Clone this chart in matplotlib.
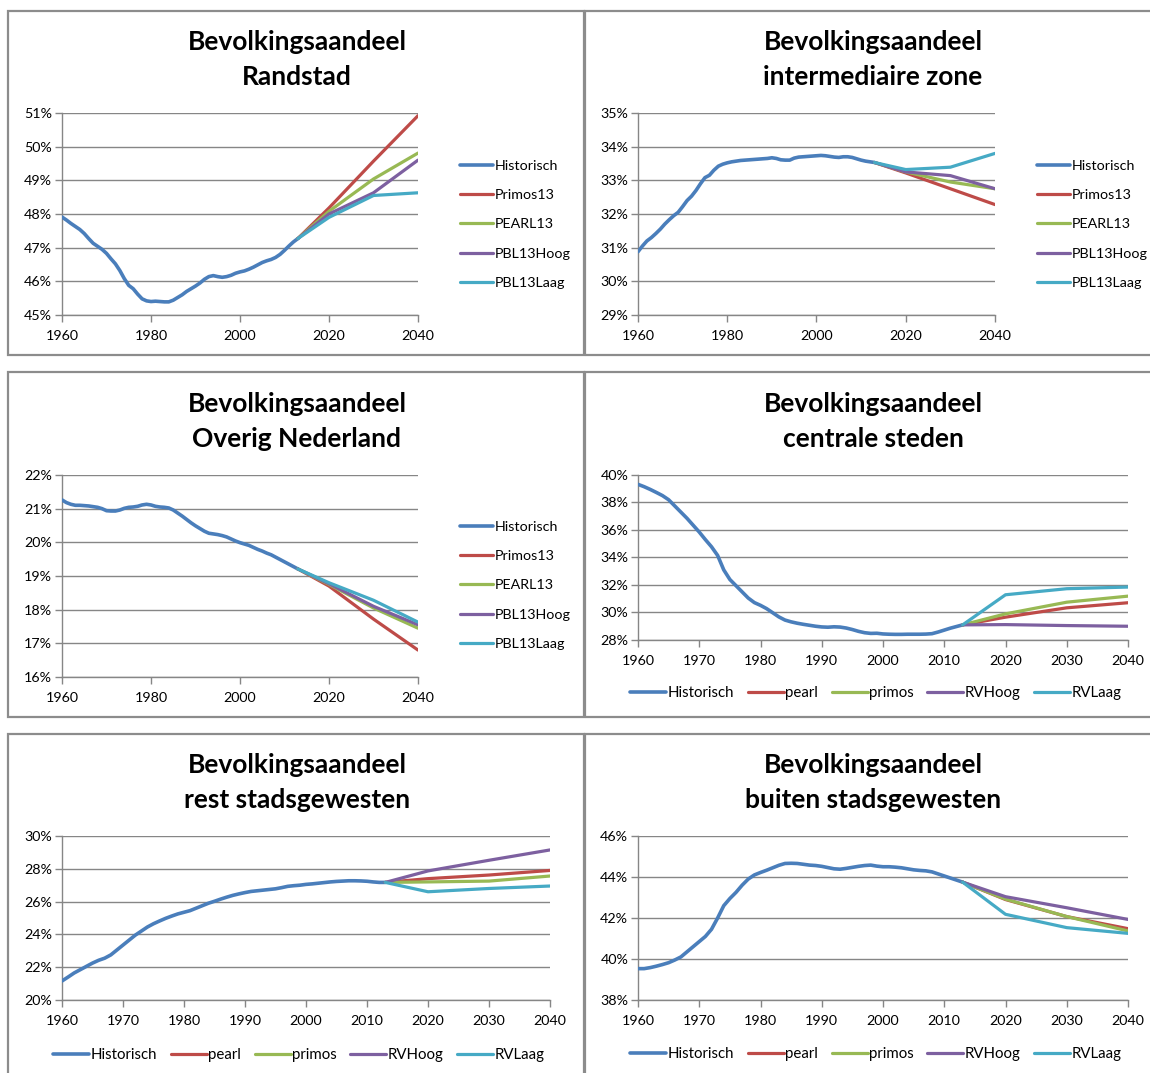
import matplotlib
matplotlib.use("Agg")
import matplotlib.pyplot as plt
from matplotlib.patches import Rectangle
from matplotlib.ticker import FuncFormatter

plt.rcParams['font.family'] = ['Lato', 'DejaVu Sans']

#-- Data ---------------------------------------------------
hist_years = list(range(1960, 2014))
scen_years = [2013, 2020, 2030, 2040]

randstad_hist = [47.91, 47.82, 47.72, 47.63, 47.54, 47.42, 47.27, 47.13, 47.04, 46.95,
                 46.83, 46.67, 46.52, 46.32, 46.08, 45.88, 45.78, 45.62, 45.48, 45.42,
                 45.40, 45.41, 45.40, 45.39, 45.39, 45.44, 45.52, 45.60, 45.70, 45.78,
                 45.86, 45.95, 46.06, 46.14, 46.17, 46.14, 46.12, 46.14, 46.18, 46.24,
                 46.28, 46.31, 46.36, 46.42, 46.49, 46.56, 46.61, 46.65, 46.71, 46.80,
                 46.92, 47.05, 47.17, 47.27]
randstad_scen = {
    'Primos13': [47.27, 48.18, 49.57, 50.92],
    'PEARL13': [47.27, 48.08, 49.04, 49.81],
    'PBL13Hoog': [47.27, 48.00, 48.63, 49.60],
    'PBL13Laag': [47.27, 47.90, 48.55, 48.63],
}

inter_hist = [30.88, 31.05, 31.20, 31.30, 31.42, 31.55, 31.70, 31.83, 31.95, 32.05,
              32.22, 32.40, 32.53, 32.70, 32.90, 33.08, 33.15, 33.30, 33.42, 33.48,
              33.52, 33.55, 33.57, 33.59, 33.60, 33.61, 33.62, 33.63, 33.64, 33.65,
              33.67, 33.65, 33.61, 33.60, 33.60, 33.66, 33.69, 33.70, 33.71, 33.72,
              33.73, 33.74, 33.73, 33.71, 33.69, 33.68, 33.70, 33.70, 33.68, 33.64,
              33.60, 33.57, 33.55, 33.53]
inter_scen = {
    'Primos13': [33.53, 33.22, 32.75, 32.28],
    'PEARL13': [33.53, 33.25, 32.95, 32.75],
    'PBL13Hoog': [33.53, 33.25, 33.14, 32.75],
    'PBL13Laag': [33.53, 33.32, 33.39, 33.80],
}

overig_hist = [21.26, 21.18, 21.13, 21.10, 21.10, 21.09, 21.08, 21.06, 21.04, 21.00,
               20.94, 20.93, 20.93, 20.96, 21.01, 21.04, 21.05, 21.07, 21.11, 21.13,
               21.11, 21.07, 21.05, 21.04, 21.02, 20.96, 20.87, 20.78, 20.68, 20.58,
               20.49, 20.41, 20.33, 20.27, 20.25, 20.23, 20.20, 20.16, 20.10, 20.04,
               19.99, 19.95, 19.91, 19.85, 19.79, 19.74, 19.68, 19.63, 19.56, 19.49,
               19.42, 19.35, 19.28, 19.21]
overig_scen = {
    'Primos13': [19.21, 18.70, 17.72, 16.80],
    'PEARL13': [19.21, 18.75, 18.05, 17.45],
    'PBL13Hoog': [19.21, 18.77, 18.10, 17.55],
    'PBL13Laag': [19.21, 18.80, 18.28, 17.63],
}

centraal_hist = [39.32, 39.15, 38.95, 38.73, 38.50, 38.20, 37.75, 37.30, 36.85, 36.35,
                 35.85, 35.30, 34.78, 34.15, 33.10, 32.40, 31.95, 31.50, 31.05, 30.72,
                 30.52, 30.28, 29.98, 29.68, 29.45, 29.32, 29.22, 29.14, 29.07, 29.00,
                 28.95, 28.93, 28.96, 28.94, 28.87, 28.76, 28.63, 28.53, 28.48, 28.49,
                 28.44, 28.42, 28.41, 28.41, 28.42, 28.42, 28.42, 28.43, 28.46, 28.58,
                 28.72, 28.86, 28.98, 29.10]
centraal_scen = {
    'pearl': [29.10, 29.66, 30.34, 30.71],
    'primos': [29.10, 29.90, 30.75, 31.19],
    'RVHoog': [29.10, 29.12, 29.05, 29.00],
    'RVLaag': [29.10, 31.29, 31.73, 31.85],
}

rest_hist = [21.16, 21.40, 21.65, 21.85, 22.05, 22.25, 22.42, 22.55, 22.75, 23.05,
             23.35, 23.65, 23.95, 24.20, 24.45, 24.65, 24.82, 24.98, 25.12, 25.25,
             25.35, 25.45, 25.60, 25.75, 25.90, 26.02, 26.15, 26.27, 26.38, 26.47,
             26.55, 26.62, 26.66, 26.70, 26.74, 26.78, 26.85, 26.93, 26.97, 27.00,
             27.05, 27.08, 27.12, 27.16, 27.20, 27.23, 27.25, 27.27, 27.27, 27.26,
             27.24, 27.20, 27.17, 27.17]
rest_scen = {
    'pearl': [27.17, 27.40, 27.62, 27.90],
    'primos': [27.17, 27.20, 27.25, 27.56],
    'RVHoog': [27.17, 27.87, 28.52, 29.15],
    'RVLaag': [27.17, 26.60, 26.80, 26.95],
}

buiten_hist = [39.53, 39.53, 39.58, 39.65, 39.73, 39.82, 39.95, 40.10, 40.35, 40.60,
               40.85, 41.10, 41.45, 42.00, 42.60, 42.95, 43.25, 43.60, 43.90, 44.10,
               44.22, 44.33, 44.45, 44.57, 44.66, 44.67, 44.66, 44.62, 44.58, 44.56,
               44.52, 44.46, 44.40, 44.38, 44.42, 44.47, 44.52, 44.56, 44.58, 44.53,
               44.50, 44.50, 44.48, 44.45, 44.40, 44.35, 44.32, 44.30, 44.25, 44.15,
               44.05, 43.95, 43.85, 43.75]
buiten_scen = {
    'pearl': [43.75, 42.90, 42.07, 41.48],
    'primos': [43.75, 42.92, 42.07, 41.37],
    'RVHoog': [43.75, 43.04, 42.50, 41.93],
    'RVLaag': [43.75, 42.18, 41.53, 41.25],
}

colors = ['#4A7EBB', '#BE4B48', '#98B954', '#7D60A0', '#46AAC5']
grey = '#868686'

W, H = 1150, 1073
fig = plt.figure(figsize=(W / 100, H / 100), dpi=100)


def fx(px):
    return px / W


def fy(py):
    return 1 - py / H


# panel frames (Excel chart borders)
for (x0, y0, x1, y1) in [(8, 11, 584, 355), (585, 11, 1160, 355),
                         (8, 372, 584, 717), (585, 372, 1160, 717),
                         (8, 734, 584, 1085), (585, 734, 1160, 1085)]:
    fig.patches.append(Rectangle((fx(x0), fy(y1)), fx(x1 - x0), (y1 - y0) / H,
                                 transform=fig.transFigure, fill=False,
                                 edgecolor='#8C8C8C', linewidth=1.6, zorder=0))

pct = FuncFormatter(lambda v, p: '%d%%' % round(v))
fs = 10.3


def panel(box, title, title_cx, title_y, hist, scen, ylim, ystep, xstep, legend, leg_y):
    x0, y0, x1, y1 = box
    ax = fig.add_axes([fx(x0), fy(y1), fx(x1 - x0), (y1 - y0) / H])
    ax.plot(hist_years, hist, color=colors[0], lw=2.6, label='Historisch',
            solid_capstyle='round', zorder=3)
    for i, (name, vals) in enumerate(scen.items()):
        ax.plot(scen_years, vals, color=colors[i + 1], lw=2.3, label=name,
                solid_capstyle='round', zorder=3 + i)
    ax.set_xlim(1960, 2040)
    ax.set_ylim(*ylim)
    ax.set_xticks(range(1960, 2041, xstep))
    yt = [ylim[0] + k * ystep for k in range(int(round((ylim[1] - ylim[0]) / ystep)) + 1)]
    ax.set_yticks(yt)
    ax.yaxis.set_major_formatter(pct)
    ax.grid(axis='y', color=grey, lw=1.0)
    ax.set_axisbelow(True)
    for s in ['top', 'right']:
        ax.spines[s].set_visible(False)
    for s in ['left', 'bottom']:
        ax.spines[s].set_color(grey)
        ax.spines[s].set_linewidth(1.0)
    ax.tick_params(direction='out', length=5, width=1.0, color=grey,
                   labelsize=fs, labelcolor='black')
    ax.tick_params(axis='x', pad=6)
    ax.tick_params(axis='y', pad=2)
    for k, line in enumerate(title):
        fig.text(fx(title_cx), fy(title_y + 35 * k), line, ha='center', va='center',
                 fontsize=19, fontweight='bold')
    if legend == 'right':
        ax.legend(loc='upper left', bbox_to_anchor=(fx(x1 + 42), fy(leg_y)),
                  bbox_transform=fig.transFigure, frameon=False, fontsize=fs,
                  handlelength=2.3, handletextpad=0.1, labelspacing=1.2,
                  borderaxespad=0, borderpad=0)
    else:
        ax.legend(loc='center', bbox_to_anchor=(fx((x0 + x1) / 2 - 7), fy(leg_y)),
                  bbox_transform=fig.transFigure, frameon=False, fontsize=10.8,
                  ncol=5, handlelength=2.4, handletextpad=0.1, columnspacing=0.9,
                  borderaxespad=0, borderpad=0)
    return ax


panel((62, 113, 418, 315), ['Bevolkingsaandeel', 'Randstad'], 297, 42,
      randstad_hist, randstad_scen, (45, 51), 1, 20, 'right', 160)
panel((638, 113, 995, 315), ['Bevolkingsaandeel', 'intermediaire zone'], 873, 42,
      inter_hist, inter_scen, (29, 35), 1, 20, 'right', 160)
panel((62, 475, 418, 677), ['Bevolkingsaandeel', 'Overig Nederland'], 297, 404,
      overig_hist, overig_scen, (16, 22), 1, 20, 'right', 521)
panel((638, 475, 1128, 640), ['Bevolkingsaandeel', 'centrale steden'], 873, 404,
      centraal_hist, centraal_scen, (28, 40), 2, 10, 'bottom', 693)
panel((62, 836, 550, 1000), ['Bevolkingsaandeel', 'rest stadsgewesten'], 297, 765,
      rest_hist, rest_scen, (20, 30), 2, 10, 'bottom', 1055)
panel((638, 836, 1128, 1000), ['Bevolkingsaandeel', 'buiten stadsgewesten'], 873, 765,
      buiten_hist, buiten_scen, (38, 46), 2, 10, 'bottom', 1054)

fig.savefig('out.png', dpi=100, facecolor='white')
